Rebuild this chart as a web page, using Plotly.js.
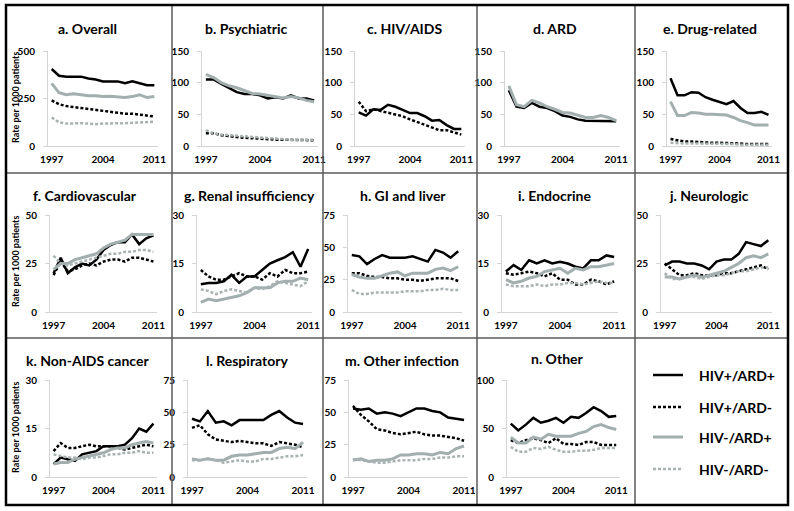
<!DOCTYPE html>
<html>
<head>
<meta charset="utf-8">
<script src="https://cdn.plot.ly/plotly-3.0.1.min.js"></script>
<style>
html,body{margin:0;padding:0;background:#fff;}
#chart{width:794px;height:511px;}
</style>
</head>
<body>
<div id="chart"></div>
<script>
// ---------- DATA ----------
const years = [1997,1998,1999,2000,2001,2002,2003,2004,2005,2006,2007,2008,2009,2010,2011];
const xTickVals = [1997,2004,2011];
const seriesNames = ["HIV+/ARD+","HIV+/ARD-","HIV-/ARD+","HIV-/ARD-"];
const panelTitles = ["a. Overall","b. Psychiatric","c. HIV/AIDS","d. ARD","e. Drug-related",
  "f. Cardiovascular","g. Renal insufficiency","h. GI and liver","i. Endocrine","j. Neurologic",
  "k. Non-AIDS cancer","l. Respiratory","m. Other infection","n. Other"];
const yTickVals = [[0,250,500],[0,50,100,150],[0,50,100,150],[0,50,100,150],[0,50,100,150],
  [0,25,50],[0,15,30],[0,25,50,75],[0,15,30],[0,25,50],
  [0,15,30],[0,25,50,75],[0,25,50,75],[0,50,100]];
const yAxisTitle = "Rate per 1000 patients";

// a. Overall
const overall_pp = [405,370,365,365,365,355,350,340,340,340,330,340,330,320,320];
const overall_pm = [240,220,210,205,200,195,190,185,180,178,170,170,165,160,155];
const overall_mp = [330,280,270,275,270,265,265,260,262,258,255,260,270,255,260];
const overall_mm = [150,125,118,120,120,118,115,118,120,120,120,122,125,128,128];
// b. Psychiatric
const psych_pp = [105,105,98,92,85,82,82,80,75,77,75,80,75,75,72];
const psych_pm = [20,20,17,15,14,13,12,11,10,10,10,10,9,9,9];
const psych_mp = [113,108,100,95,92,88,83,82,80,78,76,78,76,72,70];
const psych_mm = [25,20,18,17,16,15,14,13,12,11,11,10,10,10,10];
// c. HIV/AIDS
const hiv_pp = [53,48,58,57,65,62,57,52,52,47,40,41,33,27,27];
const hiv_pm = [70,55,58,55,53,50,47,42,38,33,30,25,25,22,18];
// d. ARD
const ard_pp = [88,62,60,68,62,60,55,48,46,42,40,40,40,40,39];
const ard_mp = [95,65,62,72,68,62,58,53,52,48,45,45,48,45,40];
// e. Drug-related
const drug_pp = [107,80,80,85,84,77,73,70,66,71,60,52,52,54,49];
const drug_pm = [11,9,7,7,6,6,5,5,5,4,4,3,3,3,3];
const drug_mp = [70,48,48,53,52,50,50,50,49,45,40,37,33,33,33];
const drug_mm = [5,4,4,4,4,3,3,3,3,3,2,2,2,2,2];
// f. Cardiovascular
const cardio_pp = [20,28,20,23,25,24,27,32,34.5,36,36,40,35,38,39.5];
const cardio_pm = [19,26,21,22,24,25,24,26,27,27,26,28,28,27,26];
const cardio_mp = [22,25,25,27,28,29,30,33,35,36,37,40,40,40,40];
const cardio_mm = [29,25,24,25,26,27,28,29,30,30,31,31,32,32,31];
// g. Renal insufficiency
const renal_pp = [8.6,9,9,9.5,11.5,9,11,11,13,15,16,17,18.5,14,19.5];
const renal_pm = [13,11,10,10,11,12,11,11,10,12,11,13,12,12,12.5];
const renal_mp = [3,4,3.5,4,4.5,5,6,7.5,7.5,7.5,9,9.5,9.5,10.5,10];
const renal_mm = [7,6.5,5.5,6.5,7,6.5,6,7.5,7,8,9.5,9,8.5,8,9.5];
// h. GI and liver
const gi_pp = [44,43,37,41,44,42,42,42,43,41,39,48,46,42,47];
const gi_pm = [30,30,28,27,27,26,26,25,25,24,25,26,26,26,24];
const gi_mp = [29,27,26,26,28,30,31,28,30,30,30,33,34,32,35];
const gi_mm = [17,14,14,15,15,15,15,16,16,16,17,17,18,17,17];
// i. Endocrine
const endo_pp = [12.5,14.5,13,16,15,16,15,15.5,15,14,13.5,16,16,17.5,17];
const endo_pm = [12,11.5,12,12.5,12,11,12,10,10,8.5,8.5,10,9.5,8.5,9.5];
const endo_mp = [10,9,9.5,10.5,11,12.5,13,13.5,12,13.5,13,14,14,14.5,15];
const endo_mm = [8.5,8,8,8,8.5,8,8.5,8.5,9,9,8.5,9,9.5,9,9];
// j. Neurologic
const neuro_pp = [24,26,26,25,25,24,22,26,27,27,30,36,35,34,37];
const neuro_pm = [25,22,19,19,20,19,19,19,20,20,21,22,23,24,22];
const neuro_mp = [18,18,17,18,19,18,19,20,21,23,25,28,29,28,30];
const neuro_mm = [20,17,17,18,18,17,18,19,19,20,21,21,22,23,23];
// k. Non-AIDS cancer
const cancer_pp = [4,6,5.5,5,7,7.5,8,9.5,9.5,9.5,10,12,15,14,16.5];
const cancer_pm = [8,10.5,9,9,9.5,10,9.5,9.5,9.5,9,8.5,9,9.5,10,9.5];
const cancer_mp = [4,4.5,4.5,5.5,6,6.5,7,7.5,8.5,9,9,10,10.5,11,10.5];
const cancer_mm = [7,6.5,6,6,5.5,6,6,6.5,7,7,7.5,7.5,8,7.5,7.5];
// l. Respiratory
const resp_pp = [45,43,51,42,43,40,44,44,44,44,48,51,46,42,41];
const resp_pm = [38,40,33,29,28,27,28,27,26,26,24,27,26,25,23];
const resp_mp = [14,13,14,13,13,16,17,17,18,19,19,22,23,22,27];
const resp_mm = [13,13,14,13,11,12,13,12,12,14,14,15,16,16,17];
// m. Other infection
const inf_pp = [53,52,53,49,50,49,47,50,53,53,51,50,46,45,44];
const inf_pm = [55,48,43,37,36,34,33,34,35,33,32,32,31,30,28];
const inf_mp = [13,14,12,13,13,14,17,17,18,18,17,19,18,22,24];
const inf_mm = [14,13,12,11,11,12,13,13,13,14,14,15,15,16,16];
// n. Other
const other_pp = [55,48,54,61,56,58,61,56,62,61,66,72,68,62,63];
const other_pm = [38,35,38,40,38,35,40,34,34,33,36,36,33,33,33];
const other_mp = [41,35,35,41,39,44,42,42,42,45,47,52,54,51,49];
const other_mm = [31,26,26,30,29,31,28,26,26,27,27,28,30,30,30];

// ---------- PANELS: series per panel (null = not shown) ----------
const panelSeries = [
  [overall_pp, overall_pm, overall_mp, overall_mm],
  [psych_pp, psych_pm, psych_mp, psych_mm],
  [hiv_pp, hiv_pm, null, null],
  [ard_pp, null, ard_mp, null],
  [drug_pp, drug_pm, drug_mp, drug_mm],
  [cardio_pp, cardio_pm, cardio_mp, cardio_mm],
  [renal_pp, renal_pm, renal_mp, renal_mm],
  [gi_pp, gi_pm, gi_mp, gi_mm],
  [endo_pp, endo_pm, endo_mp, endo_mm],
  [neuro_pp, neuro_pm, neuro_mp, neuro_mm],
  [cancer_pp, cancer_pm, cancer_mp, cancer_mm],
  [resp_pp, resp_pm, resp_mp, resp_mm],
  [inf_pp, inf_pm, inf_mp, inf_mm],
  [other_pp, other_pm, other_mp, other_mm]
];

// ---------- STYLES / LAYOUT GEOMETRY (pixels) ----------
const W = 794, H = 511;
const FONT = "Lato, 'Open Sans', sans-serif";
const lineStyles = [
  {color:'#000000', width:2.5, dash:'solid'},
  {color:'#000000', width:2.5, dash:'3px,2px'},
  {color:'#a2afae', width:3,   dash:'solid'},
  {color:'#a9b2b2', width:2.5, dash:'3px,2px'}
];
// plot-area boxes [x0,x1,yTop,yBottom]
const boxes = [
  [48,158,51,146],[202,318,51,146],[355,465,51,146],[505,620,51,146],[667,772,51,146],
  [50,157,215,312],[197,312,215,312],[348,462,215,312],[502,618,215,312],[661,772,215,312],
  [50,157,380,477],[188,307,380,477],[349,468,380,477],[507,620,380,477]
];
const titlePos = [
  [87,29],[246,29],[404,29],[555,29],[710,29],
  [85,195],[249,195],[403,195],[554,195],[709,195],
  [87,360],[247,360],[402,360],[557,358]
];

const px = x => x / W;
const py = y => 1 - y / H;

const traces = [];
const layout = {
  width: W, height: H,
  margin: {l:0, r:0, t:0, b:0},
  paper_bgcolor: '#ffffff', plot_bgcolor: 'rgba(0,0,0,0)',
  showlegend: false,
  font: {family: FONT, color: '#000', size: 10},
  annotations: [], shapes: []
};

panelSeries.forEach((series, i) => {
  const n = i + 1;
  const xa = 'x' + (n === 1 ? '' : n), ya = 'y' + (n === 1 ? '' : n);
  series.forEach((vals, s) => {
    if (!vals) return;
    traces.push({
      type: 'scatter', mode: 'lines', x: years, y: vals,
      name: seriesNames[s], xaxis: xa, yaxis: ya,
      line: {color: lineStyles[s].color, width: lineStyles[s].width, dash: lineStyles[s].dash},
      hoverinfo: 'skip'
    });
  });
  const b = boxes[i];
  const ticks = yTickVals[i];
  layout['xaxis' + (n === 1 ? '' : n)] = {
    domain: [px(b[0]), px(b[1])], anchor: ya,
    range: [1996.5, 2011.5], tickvals: xTickVals, ticktext: xTickVals.map(String),
    showline: true, linecolor: '#d4d4d4', linewidth: 1, ticks: '',
    showgrid: false, zeroline: false, ticklabelstandoff: 4,
    tickfont: {family: FONT, size: 10, color: '#000', weight: 'bold'}
  };
  layout['yaxis' + (n === 1 ? '' : n)] = {
    domain: [py(b[3]), py(b[2])], anchor: xa,
    range: [0, ticks[ticks.length - 1]], tickvals: ticks,
    showline: true, linecolor: '#d4d4d4', linewidth: 1,
    ticks: 'outside', ticklen: 4, tickcolor: '#d4d4d4', tickwidth: 1,
    showgrid: false, zeroline: false, ticklabelstandoff: 6,
    tickfont: {family: FONT, size: 10, color: '#000', weight: 'bold'}
  };
  layout.annotations.push({
    xref: 'paper', yref: 'paper', x: px(titlePos[i][0]), y: py(titlePos[i][1]),
    xanchor: 'center', yanchor: 'middle', showarrow: false,
    text: panelTitles[i], font: {family: FONT, size: 14, color: '#000', weight: 'bold'}
  });
});

// y-axis titles on first column
[[15,98],[15,262],[15,428]].forEach(p => {
  layout.annotations.push({
    xref: 'paper', yref: 'paper', x: px(p[0]), y: py(p[1]),
    xanchor: 'center', yanchor: 'middle', showarrow: false, textangle: -90,
    text: yAxisTitle, font: {family: FONT, size: 9, color: '#000', weight: 'bold'}
  });
});

// cell grid
const cellX = [172, 323, 477, 635];
const cellY = [173, 338];
cellX.forEach(x => layout.shapes.push({type:'line', xref:'paper', yref:'paper',
  x0:px(x), x1:px(x), y0:py(5), y1:py(505), line:{color:'#5a5a5a', width:1.5}}));
cellY.forEach(y => layout.shapes.push({type:'line', xref:'paper', yref:'paper',
  x0:px(6), x1:px(788), y0:py(y), y1:py(y), line:{color:'#5a5a5a', width:1.5}}));
layout.shapes.push({type:'rect', xref:'paper', yref:'paper',
  x0:px(6), x1:px(788), y0:py(505), y1:py(5), line:{color:'#000', width:2.5}});

// custom legend in the last cell
const legendY = [375, 407, 437, 469];
seriesNames.forEach((name, s) => {
  layout.shapes.push({type:'line', xref:'paper', yref:'paper',
    x0:px(653), x1:px(683), y0:py(legendY[s]), y1:py(legendY[s]),
    line:{color: lineStyles[s].color, width: lineStyles[s].width, dash: lineStyles[s].dash}});
  layout.annotations.push({xref:'paper', yref:'paper', x:px(697), y:py(legendY[s]),
    xanchor:'left', yanchor:'middle', showarrow:false, text:name,
    font:{family: FONT, size: 14, color:'#000', weight:'bold'}});
});

Plotly.newPlot('chart', traces, layout, {staticPlot: true, displayModeBar: false});
</script>
</body>
</html>
